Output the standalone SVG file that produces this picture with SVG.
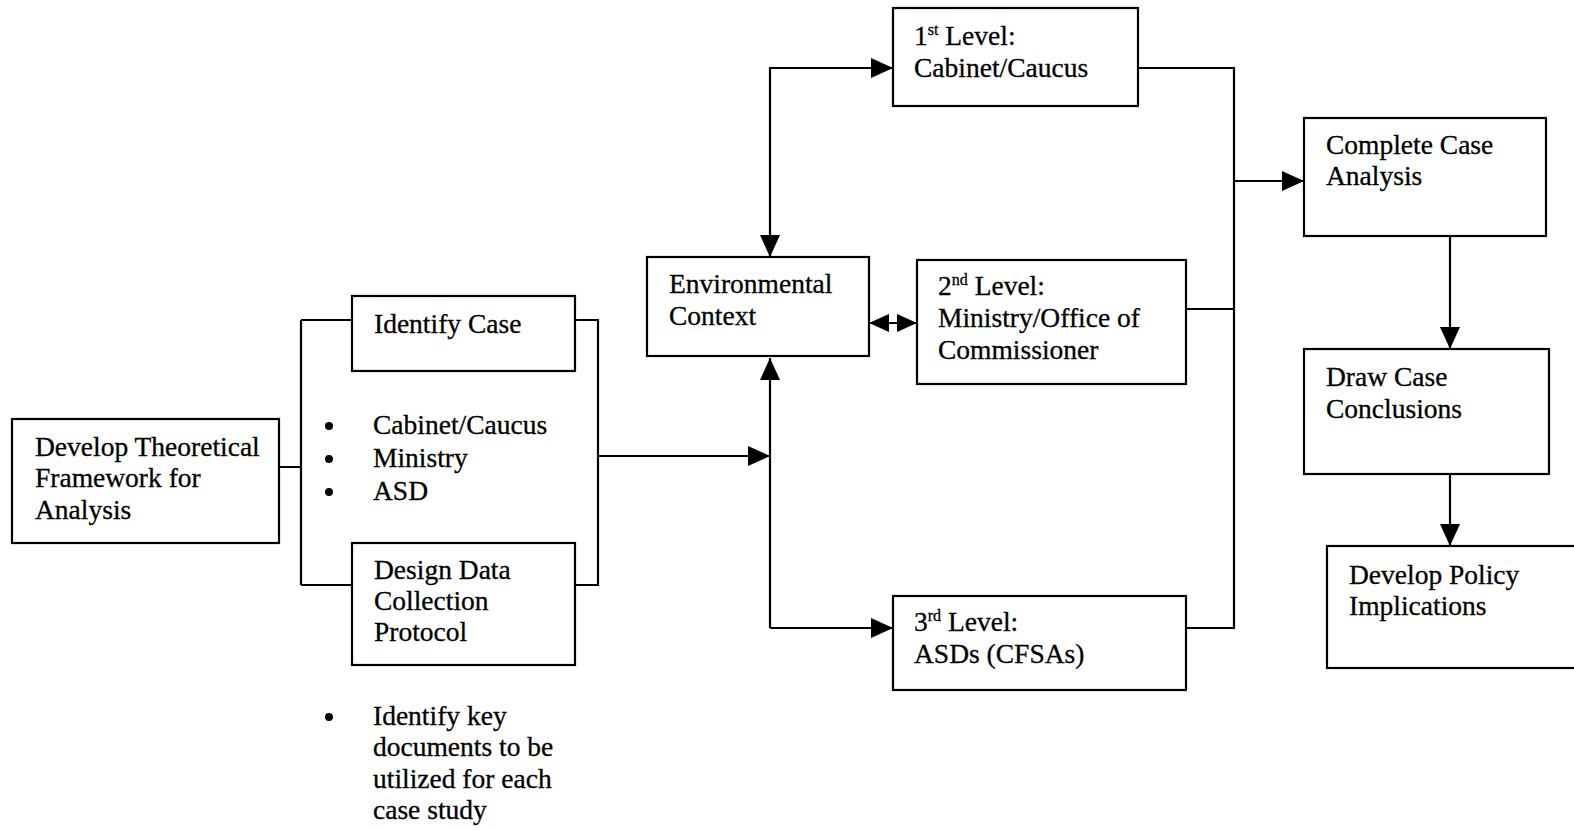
<svg xmlns="http://www.w3.org/2000/svg" width="1574" height="830" viewBox="0 0 1574 830">
<style>
.box{fill:#fff;stroke:#000;stroke-width:2.2}
.t{font-family:"Liberation Serif","Times New Roman",serif;font-size:27.5px;fill:#000;stroke:#000;stroke-width:0.3}
.sup{font-size:16px}
.ln{fill:none;stroke:#000;stroke-width:2.2}
</style>
<defs>
<marker id="ah" markerUnits="userSpaceOnUse" markerWidth="22" markerHeight="20" viewBox="0 0 22 20" refX="22" refY="10" orient="auto">
<path d="M0,0 L22,10 L0,20 Z" fill="#000"/>
</marker>
<marker id="ahs" markerUnits="userSpaceOnUse" markerWidth="20" markerHeight="18" viewBox="0 0 20 18" refX="20" refY="9" orient="auto-start-reverse">
<path d="M0,0 L20,9 L0,18 Z" fill="#000"/>
</marker>
</defs>
<rect width="1574" height="830" fill="#fff"/>
<g id="connectors">
<path class="ln" d="M279,467 H301 M301,320 V585 M301,320 H352 M301,585 H352"/>
<path class="ln" d="M575,320 H598 V585 H575"/>
<path class="ln" d="M598,456 H770" marker-end="url(#ah)"/>
<path class="ln" d="M893,68 H770 V257" marker-end="url(#ah)"/>
<path class="ln" d="M770,68 H893" marker-end="url(#ah)"/>
<path class="ln" d="M770,628 V358" marker-end="url(#ah)"/>
<path class="ln" d="M770,628 H893" marker-end="url(#ah)"/>
<path class="ln" d="M869,323 H917" marker-start="url(#ahs)" marker-end="url(#ahs)"/>
<path class="ln" d="M1138,68 H1234 V628 H1186 M1186,309 H1234"/>
<path class="ln" d="M1234,181 H1304" marker-end="url(#ah)"/>
<path class="ln" d="M1450,236 V349" marker-end="url(#ah)"/>
<path class="ln" d="M1450,474 V546" marker-end="url(#ah)"/>
</g>
<g id="develop-framework">
<rect class="box" x="12" y="419" width="267" height="124"/>
<text class="t" x="35" y="456">Develop Theoretical</text>
<text class="t" x="35" y="487">Framework for</text>
<text class="t" x="35" y="519">Analysis</text>
</g>
<g id="identify-case">
<rect class="box" x="352" y="296" width="223" height="75"/>
<text class="t" x="374" y="333">Identify Case</text>
</g>
<g id="case-bullets">
<circle cx="329" cy="426" r="4"/>
<circle cx="329" cy="459" r="4"/>
<circle cx="329" cy="492" r="4"/>
<text class="t" x="373" y="434">Cabinet/Caucus</text>
<text class="t" x="373" y="467">Ministry</text>
<text class="t" x="373" y="500">ASD</text>
</g>
<g id="design-protocol">
<rect class="box" x="352" y="543" width="223" height="122"/>
<text class="t" x="374" y="579">Design Data</text>
<text class="t" x="374" y="610">Collection</text>
<text class="t" x="374" y="641">Protocol</text>
</g>
<g id="document-bullets">
<circle cx="329" cy="717" r="4"/>
<text class="t" x="373" y="725">Identify key</text>
<text class="t" x="373" y="756">documents to be</text>
<text class="t" x="373" y="788">utilized for each</text>
<text class="t" x="373" y="819">case study</text>
</g>
<g id="environmental-context">
<rect class="box" x="647" y="257" width="222" height="99"/>
<text class="t" x="669" y="293">Environmental</text>
<text class="t" x="669" y="325">Context</text>
</g>
<g id="level-1">
<rect class="box" x="893" y="8" width="245" height="98"/>
<text class="t" x="914" y="45">1<tspan class="sup" dy="-10">st</tspan><tspan dy="10"> Level:</tspan></text>
<text class="t" x="914" y="77">Cabinet/Caucus</text>
</g>
<g id="level-2">
<rect class="box" x="917" y="260" width="269" height="124"/>
<text class="t" x="938" y="295">2<tspan class="sup" dy="-10">nd</tspan><tspan dy="10"> Level:</tspan></text>
<text class="t" x="938" y="327">Ministry/Office of</text>
<text class="t" x="938" y="359">Commissioner</text>
</g>
<g id="level-3">
<rect class="box" x="893" y="596" width="293" height="94"/>
<text class="t" x="914" y="631">3<tspan class="sup" dy="-10">rd</tspan><tspan dy="10"> Level:</tspan></text>
<text class="t" x="914" y="663">ASDs (CFSAs)</text>
</g>
<g id="complete-analysis">
<rect class="box" x="1304" y="118" width="242" height="118"/>
<text class="t" x="1326" y="154">Complete Case</text>
<text class="t" x="1326" y="185">Analysis</text>
</g>
<g id="draw-conclusions">
<rect class="box" x="1304" y="349" width="245" height="125"/>
<text class="t" x="1326" y="386">Draw Case</text>
<text class="t" x="1326" y="418">Conclusions</text>
</g>
<g id="policy-implications">
<rect class="box" x="1327" y="546" width="260" height="122"/>
<text class="t" x="1349" y="584">Develop Policy</text>
<text class="t" x="1349" y="615">Implications</text>
</g>
</svg>
